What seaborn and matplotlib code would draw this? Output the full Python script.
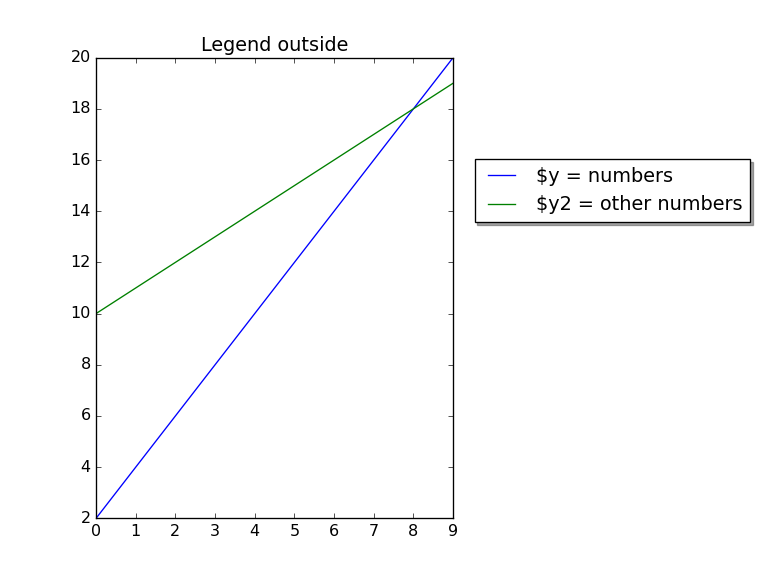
import matplotlib
matplotlib.use('Agg')
import matplotlib.pyplot as plt
import seaborn as sns
import pandas as pd

# values
x_values = [0, 1, 2, 3, 4, 5, 6, 7, 8, 9]
y_numbers = [2, 4, 6, 8, 10, 12, 14, 16, 18, 20]
y2_numbers = [10, 11, 12, 13, 14, 15, 16, 17, 18, 19]
series_labels = [r'\$y = numbers', r'\$y2 = other numbers']
series_colors = ['#0000ff', '#008000']

plt.style.use('classic')

df = pd.DataFrame({
    'x': x_values + x_values,
    'y': y_numbers + y2_numbers,
    'series': [series_labels[0]] * len(x_values) + [series_labels[1]] * len(x_values),
})

fig = plt.figure(figsize=(8, 6), dpi=96, facecolor='white')
ax = fig.add_axes([0.125, 0.1, 0.465, 0.8])
sns.lineplot(data=df, x='x', y='y', hue='series', palette=series_colors, ax=ax, linewidth=1)
ax.set_xlim(0, 9)
ax.set_ylim(2, 20)
ax.set_xticks(range(0, 10))
ax.set_yticks(range(2, 21, 2))
ax.set_xlabel('')
ax.set_ylabel('')
ax.set_title('Legend outside')

handles, labels = ax.get_legend_handles_labels()
ax.legend(handles, labels, loc='upper left', bbox_to_anchor=(1.06, 0.78),
          borderaxespad=0, shadow=True, fancybox=False)

fig.savefig('out.png', dpi=96, facecolor='white')
